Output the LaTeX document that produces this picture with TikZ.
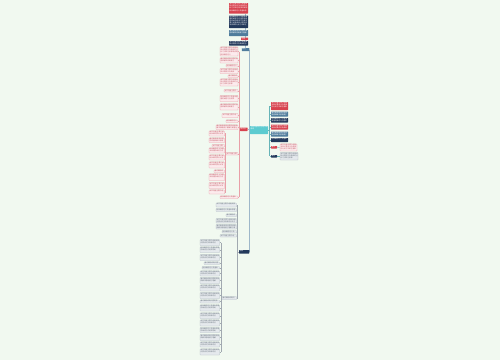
\documentclass[tikz,border=0pt]{standalone}
\usepackage{fontspec}
\usepackage{xstring}
\newfontfamily\cjk{Noto Sans CJK SC}
\XeTeXlinebreaklocale "zh"
\XeTeXlinebreakskip=0pt plus 0.5pt
\definecolor{bgc}{HTML}{F1F9F0}
\definecolor{cred}{HTML}{D8434F}
\definecolor{cnavy}{HTML}{23395B}
\definecolor{csteel}{HTML}{4F7C9C}
\definecolor{cteal}{HTML}{5CCBD0}
\definecolor{pkfill}{HTML}{FCEBED}
\definecolor{pkdraw}{HTML}{E8A0A8}
\definecolor{gyfill}{HTML}{E5E9ED}
\definecolor{gydraw}{HTML}{B3BCC4}
\definecolor{pktext}{HTML}{C25A66}
\definecolor{gytext}{HTML}{66717B}
\pgfdeclarelayer{bg}
\pgfsetlayers{bg,main}
\tikzset{
  redbox/.style={fill=cred,rounded corners=0.4pt},
  navybox/.style={fill=cnavy,rounded corners=0.4pt},
  steelbox/.style={fill=csteel,rounded corners=0.4pt},
  tealbox/.style={fill=cteal,rounded corners=0.4pt},
  pinkbox/.style={fill=pkfill,draw=pkdraw,line width=0.2pt,rounded corners=0.4pt},
  graybox/.style={fill=gyfill,draw=gydraw,line width=0.2pt,rounded corners=0.4pt},
  pinkln/.style={draw=pkdraw,line width=0.3pt},
  grayln/.style={draw=gydraw!90!black,line width=0.3pt},
  mainln/.style={draw=csteel!55,line width=0.35pt},
  rightln/.style={draw=cteal!70!gray,line width=0.3pt},
}
\newcommand\bxn[8]{% name, style, x, y, w, h, text colour, text
  \pgfmathsetmacro\bxtw{#5-0.8}%
  \pgfmathtruncatemacro\bxcpl{max(1,floor((#5-0.8)/1.75))}%
  \pgfmathtruncatemacro\bxnl{max(1,floor((#6-0.4)/2.05))}%
  \pgfmathtruncatemacro\bxnc{\bxcpl*\bxnl}%
  \StrLeft{#8}{\bxnc}[\bxtxt]%
  \node[#2, minimum width=#5pt, minimum height=#6pt, anchor=north west,
    inner sep=0pt, outer sep=0pt] (#1) at (#3,#4) {};
  \node[anchor=north west, inner sep=0pt, text width=\bxtw pt,
      align=left, text=#7, font=\cjk\fontsize{1.7}{2.05}\selectfont]
      at ([shift={(0.4pt,-0.25pt)}]#1.north west) {\bxtxt};}
\def\tA{本节内容主要介绍相关知识要点以及具体的分析方法和注意事项说明}
\def\tB{通过案例说明问题的原因和解决思路便于理解与掌握运用}
\def\tD{相关概念定义及基本原理的阐述与应用举例说明归纳总结}
\def\tL{\tA\tD\tB}
\begin{document}
\begin{tikzpicture}[x=1pt,y=-1pt]
\begin{pgfonlayer}{bg}
\fill[bgc] (0,0) rectangle (500,360);
\end{pgfonlayer}
\useasboundingbox (0,0) rectangle (500,360);
\coordinate (mbus) at (249.3,0);
\coordinate (rbus) at (269.5,0);
\coordinate (lbus) at (238.8,0);
\coordinate (qbus) at (225.3,0);
\coordinate (gbus) at (237.5,0);
\coordinate (hbus) at (220.8,0);
\coordinate (sbus) at (245.5,0);
% central
\bxn{c}{tealbox}{250}{126}{18}{8}{white}{主题内容要点总结归纳说明}
% right
\bxn{r1}{redbox}{271}{102}{17}{8}{white}{\tL}
\bxn{r2}{steelbox}{271}{111.5}{17}{5}{white}{\tB\tA}
\bxn{r3}{navybox}{271}{118}{17}{4.5}{white}{\tD\tA}
\bxn{r4}{redbox}{271}{124.5}{17}{5}{white}{\tA\tB}
\bxn{r5}{steelbox}{271}{131.5}{17}{5}{white}{\tB\tD}
\bxn{r6}{navybox}{271}{138}{17}{4}{white}{\tD\tB}
\bxn{r7}{redbox}{271}{146}{6}{2.5}{white}{重点}
\bxn{r7t}{pinkbox}{280}{144}{17}{7}{pktext}{\tL}
\bxn{r8}{navybox}{271}{155}{6}{2.5}{white}{难点}
\bxn{r8t}{graybox}{280}{152.5}{18}{7.5}{gytext}{\tL}
% top stack
\bxn{ta}{redbox}{229}{3}{19}{10.5}{white}{\tL}
\bxn{tb}{navybox}{229}{15.5}{19}{12.5}{white}{\tD\tA\tB}
\bxn{tc}{steelbox}{229}{30}{19}{6}{white}{\tB\tA}
\bxn{td}{redbox}{241}{37.5}{7}{2.5}{white}{注意}
\bxn{te}{navybox}{229}{41}{19}{4.5}{white}{\tA\tD}
\bxn{t0}{steelbox}{241.8}{48}{7.5}{3}{white}{概述}
% left pink group
\bxn{l0}{redbox}{240}{127.5}{7.5}{3.5}{white}{知识点}
\bxn{p1}{pinkbox}{220}{47}{18}{9}{pktext}{\tL}
\bxn{p2}{pinkbox}{220}{58}{18}{5}{pktext}{\tB\tA}
\bxn{p3}{pinkbox}{226}{64.5}{12}{2.5}{pktext}{\tD}
\bxn{p4}{pinkbox}{220}{68.5}{18}{5}{pktext}{\tA\tD}
\bxn{p5}{pinkbox}{228}{75}{10}{2.5}{pktext}{\tB}
\bxn{p6}{pinkbox}{220}{79}{18}{7}{pktext}{\tL}
\bxn{p7}{pinkbox}{224}{89.5}{14}{2.5}{pktext}{\tA}
\bxn{p8}{pinkbox}{220}{95.5}{18}{6}{pktext}{\tD\tB}
\bxn{p9}{pinkbox}{220}{104}{18}{6}{pktext}{\tB\tA}
\bxn{p10}{pinkbox}{222}{113.5}{16}{4}{pktext}{\tA\tD}
\bxn{p11}{pinkbox}{226}{120}{12}{2.5}{pktext}{\tD}
\bxn{p12}{pinkbox}{216}{125}{22}{4.5}{pktext}{\tB\tA}
\bxn{s1}{pinkbox}{226}{152.5}{12}{2.5}{pktext}{\tA}
\bxn{p13}{pinkbox}{220}{196}{18}{2.5}{pktext}{\tD}
\bxn{q1}{pinkbox}{209}{131}{15.5}{5}{pktext}{\tL}
\bxn{q2}{pinkbox}{209}{138}{15.5}{4.5}{pktext}{\tB\tD}
\bxn{q3}{pinkbox}{212}{144.5}{12.5}{2.5}{pktext}{\tA}
\bxn{q4}{pinkbox}{209}{148}{15.5}{5}{pktext}{\tD\tA}
\bxn{q5}{pinkbox}{209}{155}{15.5}{5}{pktext}{\tA\tB}
\bxn{q6}{pinkbox}{209}{162}{15.5}{6}{pktext}{\tL}
\bxn{q7}{pinkbox}{214}{170}{10.5}{2.5}{pktext}{\tB}
\bxn{q8}{pinkbox}{209}{174}{15.5}{6.5}{pktext}{\tD\tB}
\bxn{q9}{pinkbox}{209}{182.5}{15.5}{6}{pktext}{\tL}
\bxn{q10}{pinkbox}{209}{190}{15.5}{4}{pktext}{\tA\tD}
% bottom gray group
\bxn{b0}{navybox}{239}{250}{10.3}{3.5}{white}{拓展}
\bxn{g1}{graybox}{216}{203}{20.5}{4}{gytext}{\tA\tB}
\bxn{g2}{graybox}{216}{208.5}{20.5}{3}{gytext}{\tD}
\bxn{g3}{graybox}{226}{214}{10.5}{2.5}{gytext}{\tB}
\bxn{g4}{graybox}{216}{218.5}{20.5}{4.5}{gytext}{\tL}
\bxn{g5}{graybox}{216}{224.5}{20.5}{4.5}{gytext}{\tB\tA}
\bxn{g6}{graybox}{222}{230.5}{14.5}{2.5}{gytext}{\tD}
\bxn{g7}{graybox}{220}{234.5}{16.5}{2.5}{gytext}{\tA}
\bxn{g8}{graybox}{222}{296.5}{14.5}{3}{gytext}{\tB}
\bxn{h1}{graybox}{200}{239.5}{19.5}{6}{gytext}{\tL}
\bxn{h2}{graybox}{200}{247}{19.5}{5.5}{gytext}{\tD\tA}
\bxn{h3}{graybox}{200}{254.5}{19.5}{6}{gytext}{\tA\tB}
\bxn{h4}{graybox}{204}{262}{15.5}{2.5}{gytext}{\tB}
\bxn{h5}{graybox}{202}{266.5}{17.5}{2.5}{gytext}{\tD}
\bxn{h6}{graybox}{200}{271}{19.5}{5}{gytext}{\tL}
\bxn{h7}{graybox}{200}{277.5}{19.5}{6}{gytext}{\tB\tD}
\bxn{h8}{graybox}{200}{285}{19.5}{6}{gytext}{\tA\tD}
\bxn{h9}{graybox}{200}{292.5}{19.5}{6}{gytext}{\tL}
\bxn{h10}{graybox}{200}{300}{19.5}{3}{gytext}{\tB}
\bxn{h11}{graybox}{200}{305}{19.5}{6}{gytext}{\tD\tB}
\bxn{h12}{graybox}{200}{313}{19.5}{5.5}{gytext}{\tA\tB}
\bxn{h13}{graybox}{200}{320}{19.5}{6}{gytext}{\tL}
\bxn{h14}{graybox}{200}{327.5}{19.5}{5}{gytext}{\tD\tA}
\bxn{h15}{graybox}{200}{334.5}{19.5}{6}{gytext}{\tB\tA}
\bxn{h16}{graybox}{200}{342}{19.5}{5}{gytext}{\tA\tD}
\bxn{h17}{graybox}{200}{349}{19.5}{6}{gytext}{\tL}
% connectors
\begin{pgfonlayer}{bg}
\draw[mainln] (mbus|-t0.east) -- (mbus|-b0.east);
\draw[mainln] (c.west) -- (mbus|-c.west);
\draw[mainln] (l0.east) -- (mbus|-l0.east);
\draw[rightln] (c.east) -- (rbus|-c.east);
\draw[rightln] (rbus|-r1.west) -- (rbus|-r8.west);
\foreach \n in {r1,r2,r3,r4,r5,r6,r7,r8} \draw[rightln] (\n.west) -- (rbus|-\n.west);
\draw[rightln] (r7.east) -- (r7t.west);
\draw[rightln] (r8.east) -- (r8t.west);
\draw[mainln] (t0.north-|sbus) -- (sbus|-ta.south);
\draw[pinkln] (lbus|-p1.east) -- (lbus|-p13.east);
\draw[pinkln] (l0.west) -- (lbus|-l0.west);
\foreach \n in {p1,p2,p3,p4,p5,p6,p7,p8,p9,p10,p11,p12,s1,p13} \draw[pinkln] (\n.east) -- (lbus|-\n.east);
\draw[pinkln] (qbus|-q1.east) -- (qbus|-q10.east);
\draw[pinkln] (s1.west) -- (qbus|-s1.west);
\foreach \n in {q1,q2,q3,q4,q5,q6,q7,q8,q9,q10} \draw[pinkln] (\n.east) -- (qbus|-\n.east);
\draw[grayln] (gbus|-g1.east) -- (gbus|-g8.east);
\draw[grayln] (b0.west) -- (gbus|-b0.west);
\foreach \n in {g1,g2,g3,g4,g5,g6,g7,g8} \draw[grayln] (\n.east) -- (gbus|-\n.east);
\draw[grayln] (hbus|-h1.east) -- (hbus|-h17.east);
\draw[grayln] (g8.west) -- (hbus|-g8.west);
\foreach \n in {h1,h2,h3,h4,h5,h6,h7,h8,h9,h10,h11,h12,h13,h14,h15,h16,h17} \draw[grayln] (\n.east) -- (hbus|-\n.east);
\end{pgfonlayer}
\end{tikzpicture}
\end{document}
